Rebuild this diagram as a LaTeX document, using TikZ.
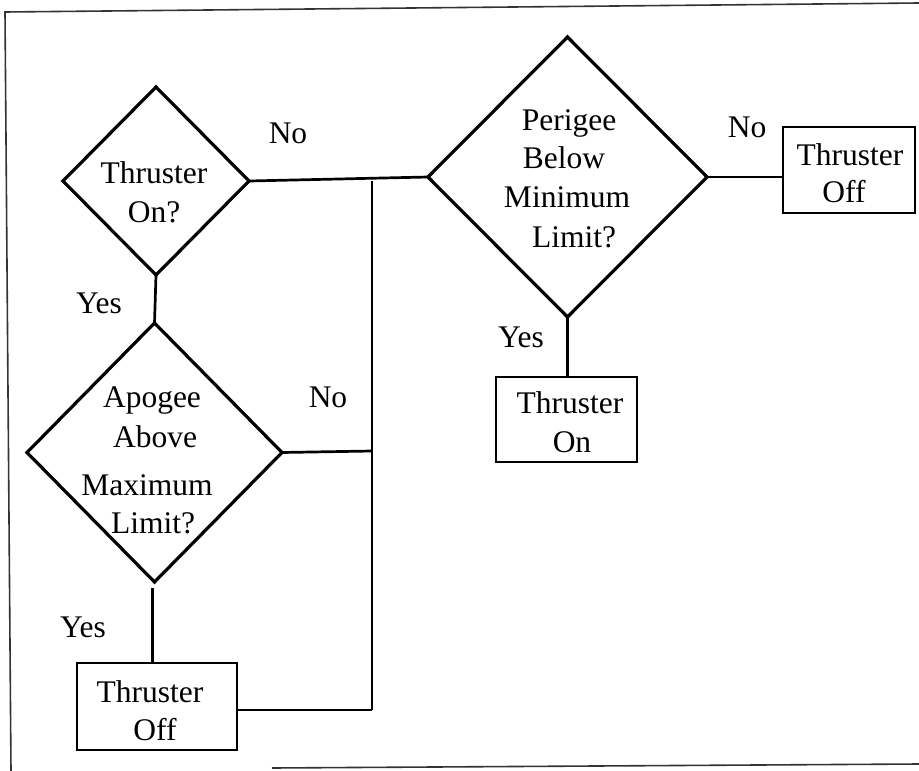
\documentclass[tikz,border=0pt]{standalone}
\usepackage{fontspec}
\setmainfont{Liberation Serif}
\usetikzlibrary{shapes.geometric,calc}
\begin{document}
\begin{tikzpicture}[x=1pt,y=-1pt,
  dia/.style={draw,shape=diamond,inner sep=0pt,outer sep=0pt,line width=3.2pt,line join=miter},
  boxnode/.style={draw,rectangle,inner sep=0pt,outer sep=0pt,line width=2.5pt},
  conn/.style={line width=2.7pt},
  frameline/.style={line width=1.6pt,black!80},
  txt/.style={anchor=base,inner sep=0pt,font=\fontsize{31.5}{36}\selectfont}]
\useasboundingbox (0,0) rectangle (919,771);
% frame
\draw[frameline] (919,3) -- (5,12) -- (11,771);
\draw[frameline] (272,768) -- (919,764);
% decisions
\node[dia,minimum width=186pt,minimum height=188pt] (d1) at (156,181) {};
\node[dia,minimum width=255pt,minimum height=259pt] (d2) at (154.5,452.5) {};
\node[dia,minimum width=279pt,minimum height=280pt] (d3) at (567.5,177) {};
% boxes
\node[boxnode,minimum width=160pt,minimum height=87pt] (b1) at (157,706.5) {};
\node[boxnode,minimum width=132pt,minimum height=86pt] (b2) at (849,170) {};
\node[boxnode,minimum width=141pt,minimum height=85pt] (b3) at (566.5,419.5) {};
% junctions
\coordinate (jt) at (372,181);
\coordinate (jm) at (372,451);
\coordinate (jb) at (372,710);
% connectors
\draw[conn] (d1.east) -- (d3.west);
\draw[conn] (jt) -- (jb);
\draw[conn] (d2.east) -- (jm);
\draw[conn] (b1.east |- jb) -- (jb);
\draw[conn] (d1.south) -- (d2.north);
\coordinate (d2s) at ($(d2.south)+(-2,6)$);
\draw[conn] (d2s) -- (d2s |- b1.north);
\draw[conn] (d3.east) -- (d3.east -| b2.west);
\draw[conn] (d3.south) -- (d3.south |- b3.north);
% texts in decisions
\node[txt] (t1a) at (154,183) {Thruster};
\node[txt] (t1b) at (154,222) {On?};
\node[txt] (t2a) at (152,407) {Apogee};
\node[txt] (t2b) at (155,447) {Above};
\node[txt] (t2c) at (147,495) {Maximum};
\node[txt] (t2d) at (153,533) {Limit?};
\node[txt] (t3a) at (569,130) {Perigee};
\node[txt] (t3b) at (564,168) {Below};
\node[txt] (t3c) at (567,207) {Minimum};
\node[txt] (t3d) at (574,247) {Limit?};
% texts in boxes
\node[txt] (tb1a) at (150,702) {Thruster};
\node[txt] (tb1b) at (155,740) {Off};
\node[txt] (tb2a) at (850,165) {Thruster};
\node[txt] (tb2b) at (844,202) {Off};
\node[txt] (tb3a) at (570,413) {Thruster};
\node[txt] (tb3b) at (572,452) {On};
% branch labels
\node[txt] (n1) at (288,143) {No};
\node[txt] (y1) at (99,313) {Yes};
\node[txt] (n2) at (328,407) {No};
\node[txt] (y2) at (83,637) {Yes};
\node[txt] (n3) at (747,137) {No};
\node[txt] (y3) at (521,347) {Yes};
\end{tikzpicture}
\end{document}
